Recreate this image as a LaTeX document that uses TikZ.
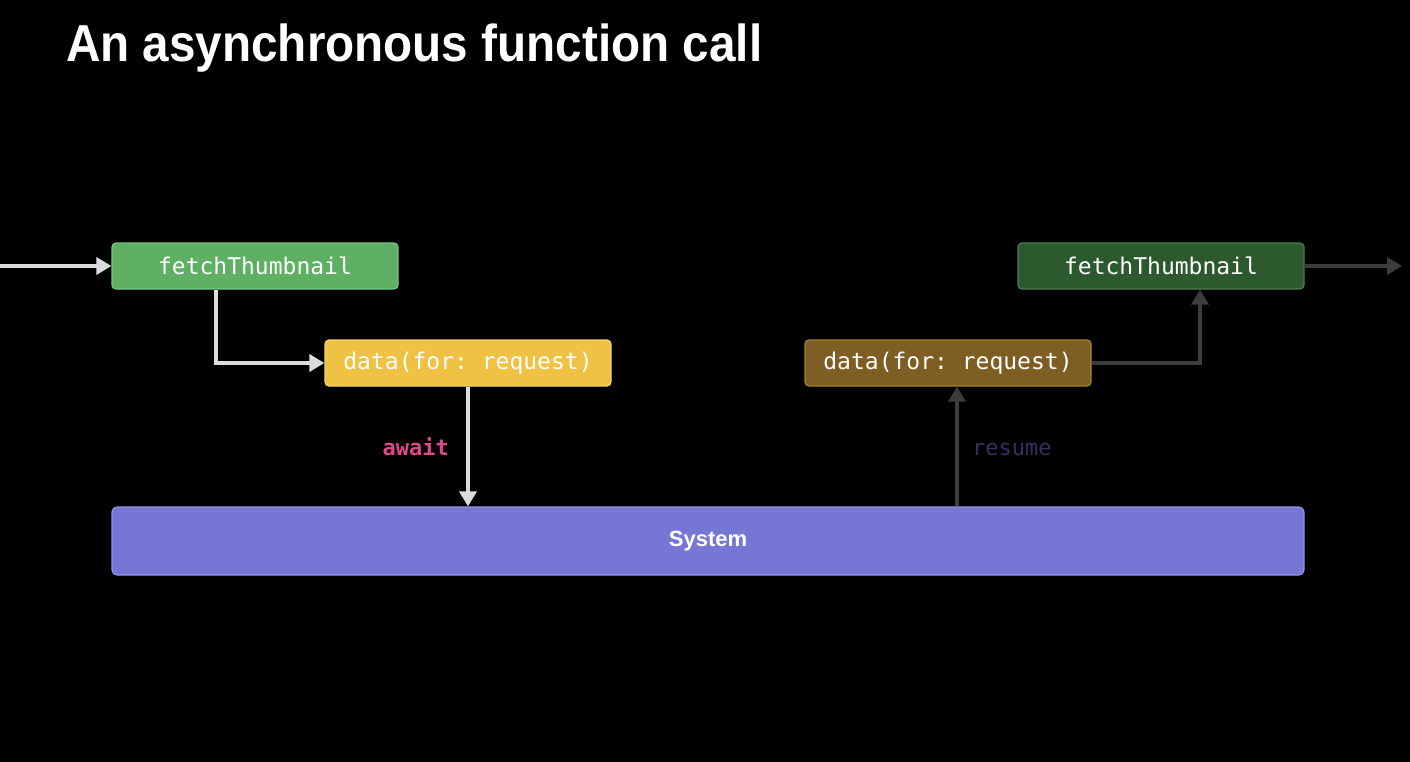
\documentclass[tikz,border=0pt]{standalone}
\usepackage{fontspec}
\setmainfont{Liberation Sans}
\setmonofont{DejaVu Sans Mono}
\usetikzlibrary{arrows.meta,positioning}

\definecolor{bg}{HTML}{000000}
\definecolor{callgreen}{HTML}{5FB064}
\definecolor{callgreenline}{HTML}{7CC580}
\definecolor{callyellow}{HTML}{EFC244}
\definecolor{callyellowline}{HTML}{F6D272}
\definecolor{sysblue}{HTML}{7676D4}
\definecolor{sysblueline}{HTML}{9494EA}
\definecolor{callbrown}{HTML}{7E5E22}
\definecolor{callbrownline}{HTML}{A5823A}
\definecolor{calldark}{HTML}{2C5A2E}
\definecolor{calldarkline}{HTML}{4C7E4D}
\definecolor{arrlight}{HTML}{DCDCDC}
\definecolor{arrdark}{HTML}{3C3C3C}
\definecolor{awaitpink}{HTML}{E0468A}
\definecolor{resumepurple}{HTML}{3B2E5C}

\tikzset{
  callbox/.style={draw, line width=1.2pt, rounded corners=4pt,
    minimum width=286pt, minimum height=46pt, inner sep=0pt,
    text=white, font=\ttfamily\fontsize{23}{23}\selectfont},
  flow/.style={line width=3.6pt, -{Triangle[length=15pt,width=17pt]}},
}

\begin{document}
\begin{tikzpicture}[x=1pt,y=-1pt]
  % Fondo
  \fill[bg] (0,0) rectangle (1410,762);
  \useasboundingbox (0,0) rectangle (1410,762);

  % Titulo
  \node[anchor=base west, text=white, inner sep=0pt] (title) at (66,62)
    {\scalebox{0.916}[1]{\fontsize{52}{52}\selectfont\bfseries An asynchronous function call}};

  % Llamadas
  \node[callbox, fill=callgreen, draw=callgreenline] (fetchA) at (255,266) {fetchThumbnail};
  \node[callbox, fill=callyellow, draw=callyellowline] (dataA) at (468,363) {data(for: request)};
  \node[callbox, fill=callbrown, draw=callbrownline] (dataB) at (948,363) {data(for: request)};
  \node[callbox, fill=calldark, draw=calldarkline] (fetchB) at (1161,266) {fetchThumbnail};

  % Sistema
  \node[draw=sysblueline, fill=sysblue, line width=1.2pt, rounded corners=5pt,
    minimum width=1192pt, minimum height=68pt, inner sep=0pt, text=white,
    font=\fontsize{22}{22}\selectfont\bfseries] (sys) at (708,541) {System};

  % Extremos libres
  \coordinate (inL) at (0,266);
  \coordinate (outR) at (1402,266);

  % Flechas claras
  \draw[flow, arrlight] (inL) -- (fetchA.west);
  \draw[flow, arrlight] ([xshift=-39pt]fetchA.south) |- (dataA.west);
  \draw[flow, arrlight] (dataA.south) -- (dataA.south |- sys.north)
    node[midway, left=14pt, text=awaitpink, font=\ttfamily\bfseries\fontsize{22}{22}\selectfont] {await};

  % Flechas oscuras
  \draw[flow, arrdark] ([xshift=9pt]dataB.south |- sys.north) -- ([xshift=9pt]dataB.south)
    node[midway, right=10pt, yshift=-3pt, text=resumepurple, font=\ttfamily\fontsize{22}{22}\selectfont] {resume};
  \draw[flow, arrdark] (dataB.east) -| ([xshift=39pt]fetchB.south);
  \draw[flow, arrdark] (fetchB.east) -- (outR);
\end{tikzpicture}
\end{document}
